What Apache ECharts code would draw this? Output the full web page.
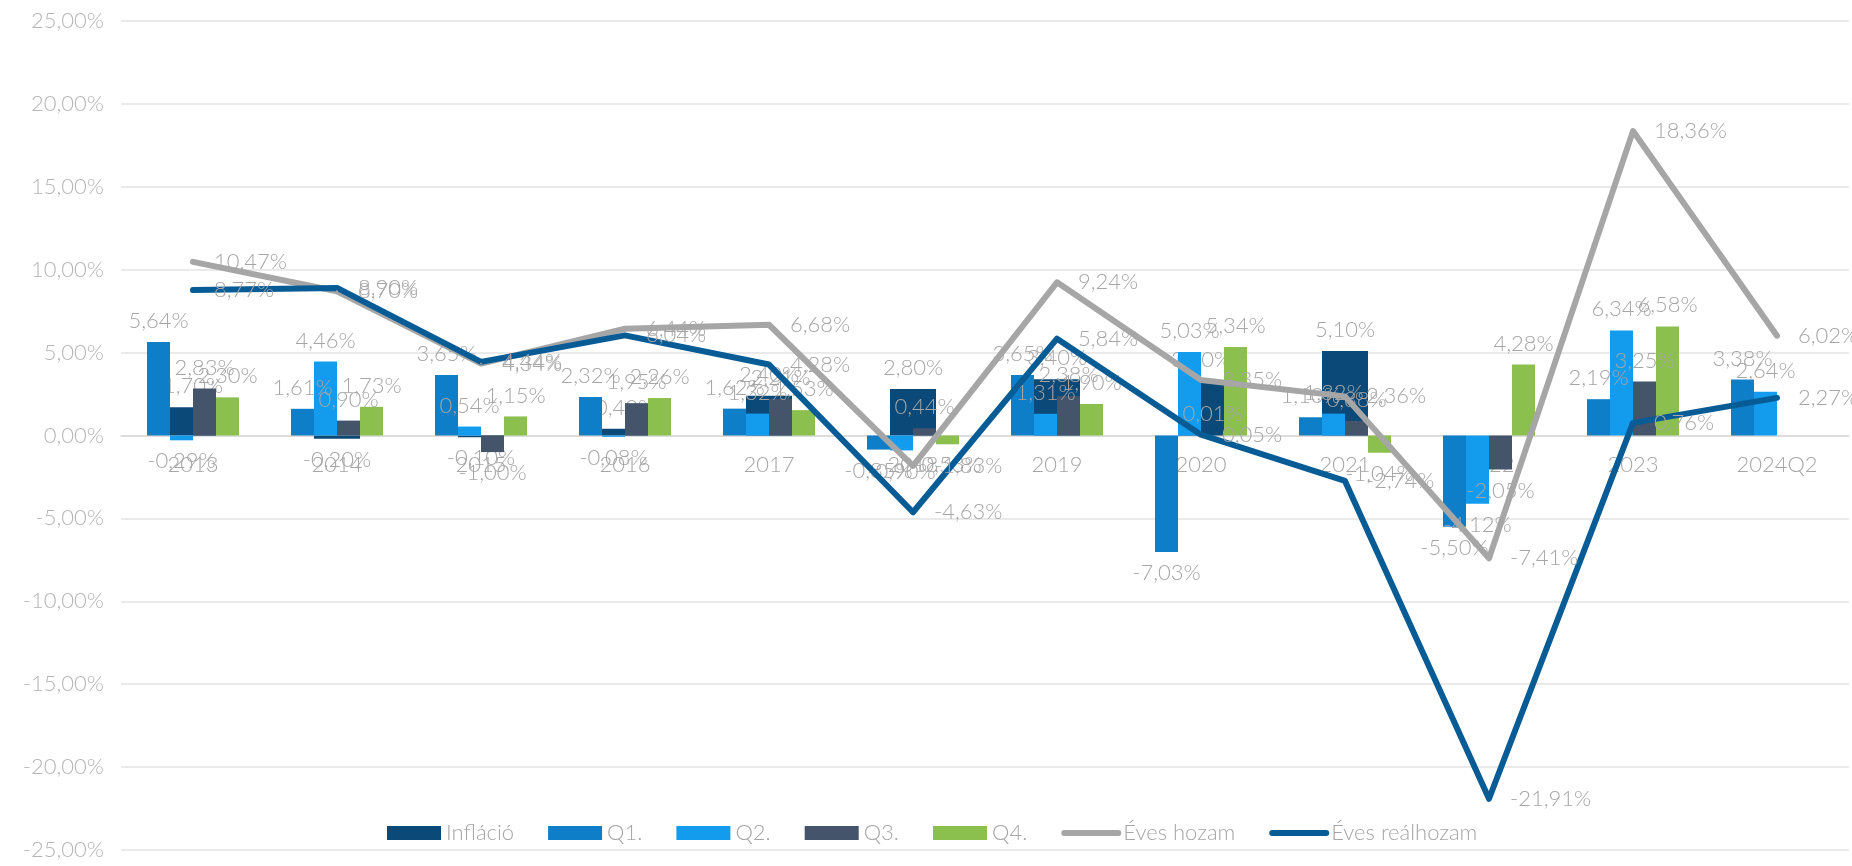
<!DOCTYPE html>
<html>
<head>
<meta charset="utf-8">
<script src="https://cdn.jsdelivr.net/npm/echarts@6/dist/echarts.min.js"></script>
<style>
  html, body { margin: 0; padding: 0; background: #fff; }
  #chart { width: 1852px; height: 866px; }
</style>
</head>
<body>
<div id="chart"></div>
<script>
// adatok
const categories = ['2013', '2014', '2015', '2016', '2017', '2018', '2019', '2020', '2021', '2022', '2023', '2024Q2']
const inflacio = [1.70, -0.20, -0.10, 0.40, 2.40, 2.80, 3.40, 3.30, 5.10, null, null, null]
const q1 = [5.64, 1.61, 3.65, 2.32, 1.62, -0.85, 3.65, -7.03, 1.10, -5.50, 2.19, 3.38]
const q2 = [-0.29, 4.46, 0.54, -0.08, 1.32, -0.90, 1.31, 5.03, 1.32, -4.12, 6.34, 2.64]
const q3 = [2.83, 0.90, -1.00, 1.95, 2.21, 0.44, 2.38, 0.01, 0.88, -2.05, 3.25, null]
const q4 = [2.30, 1.73, 1.15, 2.26, 1.53, -0.53, 1.90, 5.34, -1.04, 4.28, 6.58, null]
const evesHozam = [10.47, 8.70, 4.34, 6.44, 6.68, -1.83, 9.24, 3.35, 2.36, -7.41, 18.36, 6.02]
const evesRealhozam = [8.77, 8.90, 4.44, 6.04, 4.28, -4.63, 5.84, 0.05, -2.74, -21.91, 0.76, 2.27]

const FONT = 'Lato'
const LABEL_COLOR = '#a6a6a6'

// rács: felül 21px, alul 16px, -25..25 skála -> a 0 vonal a rács közepén
const GRID_TOP = 21
const GRID_BOTTOM = 16
const PLOT_H = 866 - GRID_TOP - GRID_BOTTOM

const pct = v => v.toFixed(2).replace('.', ',') + '%'

// oszlopok: pozitív érték fölé, negatív alá kerül a címke
function barData (arr) {
  return arr.map(v => {
    if (v === null) return null
    return {
      value: v,
      label: { position: v < 0 ? 'bottom' : 'top' }
    }
  })
}

function barSeries (name, arr, color, extra) {
  return Object.assign({
    name: name,
    type: 'bar',
    data: barData(arr),
    barWidth: 23,
    barGap: '0%',
    itemStyle: { color: color },
    label: {
      show: true,
      distance: 10,
      color: LABEL_COLOR,
      fontFamily: FONT,
      fontWeight: 300,
      fontSize: 22,
      formatter: p => pct(p.value)
    }
  }, extra || {})
}

function lineSeries (name, arr, color) {
  return {
    name: name,
    type: 'line',
    data: arr,
    symbol: 'circle',
    symbolSize: 2,
    itemStyle: { color: color },
    lineStyle: { color: color, width: 6, cap: 'round', join: 'round' },
    label: {
      show: true,
      position: 'right',
      distance: 20,
      color: LABEL_COLOR,
      fontFamily: FONT,
      fontWeight: 300,
      fontSize: 22,
      formatter: p => pct(p.value)
    },
    z: 3
  }
}

const chart = echarts.init(document.getElementById('chart'))
const option = {
  animation: false,
  textStyle: { fontFamily: FONT },
  grid: {
    left: 121,
    right: 3,
    top: GRID_TOP,
    bottom: GRID_BOTTOM
  },
  legend: {
    left: 382,
    top: 817,
    itemWidth: 54,
    itemHeight: 14,
    itemGap: 34,
    textStyle: { color: LABEL_COLOR, fontSize: 22, fontWeight: 300, fontFamily: FONT },
    data: [
      { name: 'Infláció', icon: 'rect' },
      { name: 'Q1.', icon: 'rect' },
      { name: 'Q2.', icon: 'rect' },
      { name: 'Q3.', icon: 'rect' },
      { name: 'Q4.', icon: 'rect' },
      { name: 'Éves hozam', itemStyle: { opacity: 0 }, lineStyle: { width: 6, cap: 'round' } },
      { name: 'Éves reálhozam', itemStyle: { opacity: 0 }, lineStyle: { width: 6, cap: 'round' } }
    ]
  },
  xAxis: [
    {
      type: 'category',
      data: categories,
      position: 'bottom',
      // a kategóriatengely a 0 vonalon fut
      offset: -PLOT_H / 2,
      axisLine: { onZero: false, lineStyle: { color: '#d9d9d9', width: 1.5 } },
      axisTick: { show: false },
      axisLabel: { color: LABEL_COLOR, fontSize: 22, fontWeight: 300, margin: 18 }
    },
    {
      // infláció külön tengelyen, szélesebb oszloppal a negyedévek mögött
      type: 'category',
      data: categories,
      position: 'top',
      axisLine: { onZero: false },
      show: false
    }
  ],
  yAxis: {
    type: 'value',
    min: -25,
    max: 25,
    interval: 5,
    axisLine: { show: false },
    axisTick: { show: false },
    splitLine: { lineStyle: { color: '#e3e3e3', width: 1.5 } },
    axisLabel: {
      color: '#b5b5b5',
      fontSize: 22,
      fontWeight: 300,
      margin: 17,
      formatter: v => pct(v)
    }
  },
  series: [
    barSeries('Infláció', inflacio, '#0b4a78', { xAxisIndex: 1, barWidth: 46, z: 1 }),
    barSeries('Q1.', q1, '#0e7ec8', { z: 2 }),
    barSeries('Q2.', q2, '#139bee', { z: 2 }),
    barSeries('Q3.', q3, '#44546a', { z: 2 }),
    barSeries('Q4.', q4, '#8bc04f', { z: 2 }),
    lineSeries('Éves hozam', evesHozam, '#a6a6a6'),
    lineSeries('Éves reálhozam', evesRealhozam, '#085c96')
  ]
}
chart.setOption(option)
</script>
</body>
</html>
